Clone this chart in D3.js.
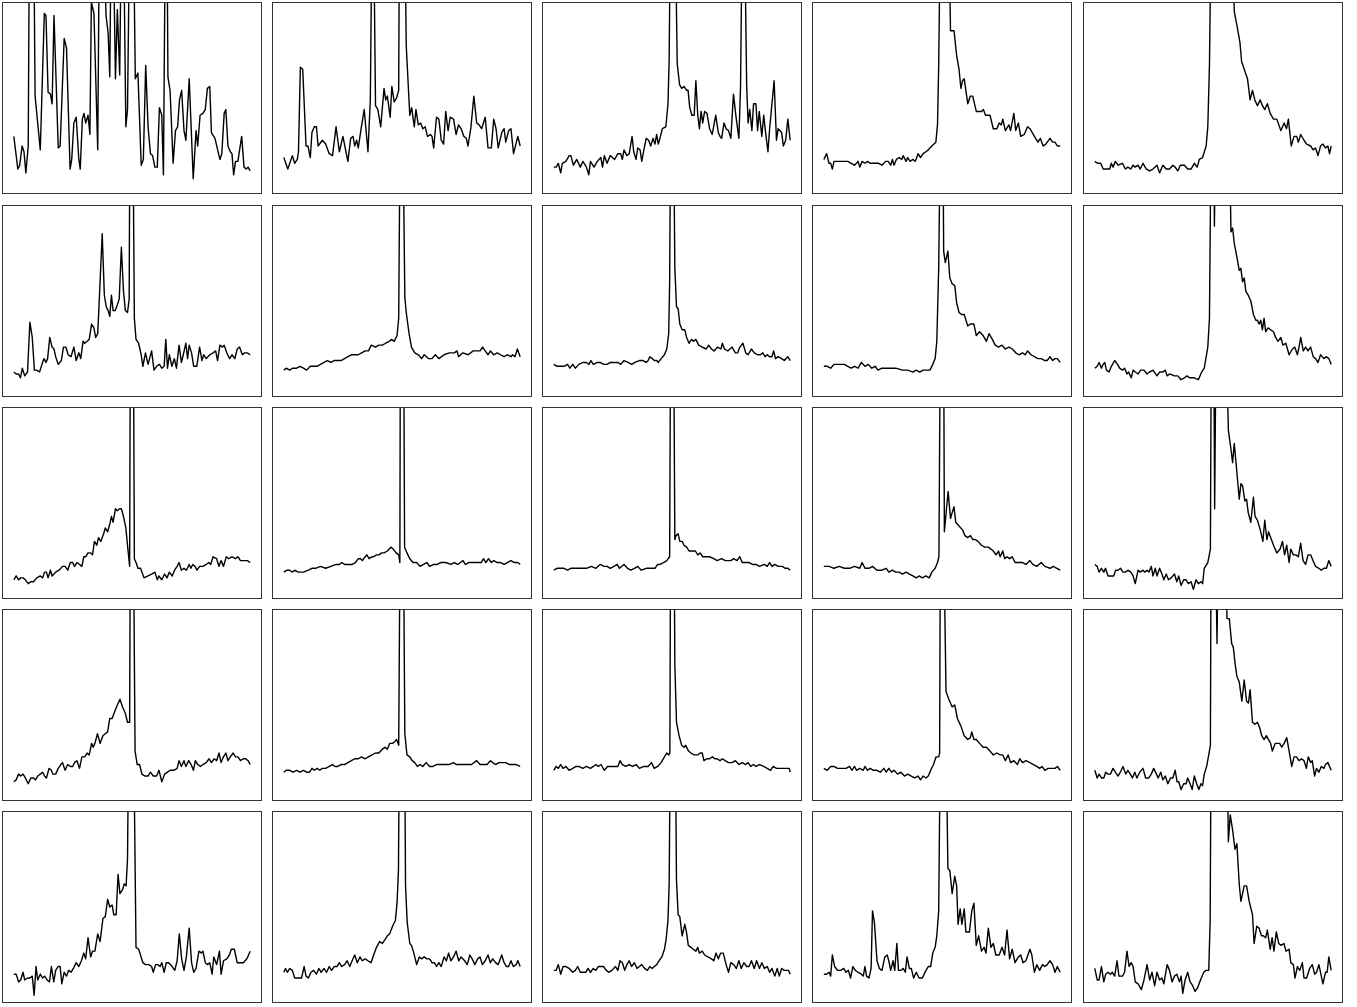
<!DOCTYPE html>
<html>
<head>
<meta charset="utf-8">
<script src="https://cdn.jsdelivr.net/npm/d3@7"></script>
<style>
  body { margin: 0; background: #fff; }
</style>
</head>
<body>
<div id="chart"></div>
<script>
// each panel: [shift, intensity] pairs, shift 0..100, intensity scaled so 100 = top of panel
// values above 100 run off the top of the panel (clipped like the original)

// row 1
var p11 = [[0,30],[1,20],[1.7,13],[2.5,15],[3.5,25],[4.3,22],[5.1,11],[6.1,25],[6.6,140],[8.4,140],[9,51],[11.2,23],[12.9,94],[13.6,93],[14.5,53],[15.5,52],[16.2,47],[17,93],[18.8,24],[19.6,25],[21.3,81],[22.3,76],[23.8,13],[24.5,18],[25.4,37],[26.4,40],[27.5,18],[28.1,13],[29,39],[29.7,42],[30.4,37],[31.4,41],[32.2,31],[32.8,100],[33.9,94],[35.5,23],[36.2,140],[38,140],[39,93],[39.9,84],[40.6,61],[41.2,140],[42,140],[43,60],[43.8,96],[44.8,62],[45.5,140],[46.4,140],[47.4,35],[48.1,44],[49,140],[50.6,140],[51.4,60],[52.5,63],[53.9,15],[54.8,18],[55.8,67],[56.8,35],[57.8,21],[58.7,20],[59.7,14],[60.7,14],[61.6,45],[62.6,41],[63.3,10],[64.1,140],[64.8,140],[65.2,61],[66.1,54],[67.4,16],[68.4,33],[69.3,35],[70.1,49],[71,54],[72,33],[72.8,28],[74.2,60],[75.9,8],[77.1,33],[77.8,25],[78.8,41],[80,42],[81,44],[81.9,55],[82.9,56],[83.6,32],[85.1,29],[87.2,18],[88,21],[89,42],[89.7,44],[90.6,25],[91.6,22],[92.3,21],[93,10],[93.8,17],[94.8,17],[96.4,30],[97.4,14],[98.3,13],[99.1,14],[100,12]];
var p12 = [[0,19],[1.7,13],[3.6,20],[4.6,16],[5.7,18],[6.2,22],[7,66],[8,65],[9.4,25],[10.2,25],[11.2,19],[11.9,32],[12.9,35],[13.8,35],[14.5,25],[16.3,28],[17.7,26],[19.2,21],[20.6,20],[22.1,35],[23.5,22],[25,30],[27.1,17],[28.3,29],[29.3,30],[30,25],[30.8,28],[31.5,24],[32.7,34],[34,44],[35.6,22],[36.6,49],[37.3,140],[38,140],[38.8,46],[39.8,44],[41,35],[42.4,55],[43.1,49],[43.8,51],[45,40],[45.7,56],[46.7,48],[47.7,50],[48.6,54],[48.9,140],[51.2,140],[51.8,77],[53.3,41],[54.1,45],[55.2,35],[55.9,44],[56.9,36],[57.9,37],[58.8,34],[59.8,35],[60.8,30],[62,31],[62.7,30],[63.4,24],[64.6,40],[65.6,39],[66.6,28],[67.6,26],[68.5,43],[69.5,33],[70.4,40],[71.8,39],[72.9,31],[73.9,36],[75,34],[76.2,30],[77.2,29],[77.9,25],[79.1,34],[80.4,51],[81.6,37],[82.6,36],[83.7,34],[85.2,40],[86.4,24],[87.8,24],[88.8,39],[89.8,34],[90.7,24],[92.2,32],[93.2,34],[93.9,27],[95.1,33],[96.1,34],[97.2,21],[99,30],[100,25]];
var p13 = [[0,14],[1,14],[1.9,16],[2.9,11],[3.6,16],[5.1,17],[6.5,20],[7.2,20],[8.3,15],[9.7,18],[11.2,14],[12.3,17],[13.8,14],[14.8,10],[15.5,17],[17,14],[18.4,17],[19.9,19],[20.6,14],[21.4,20],[22.5,16],[23.9,20],[25.7,18],[27.1,21],[28.3,21],[29,18],[29.7,23],[30.9,20],[31.9,21],[33.1,30],[33.8,22],[34.8,18],[35.5,24],[36.5,23],[37.2,17],[38.1,23],[39.1,29],[40.1,28],[41,25],[42,29],[42.8,26],[43.5,31],[44.2,26],[44.9,29],[45.9,34],[47.4,35],[48.3,47],[48.8,70],[49.3,140],[51.4,140],[52.2,68],[53.2,57],[54.1,55],[55.1,56],[56.2,54],[56.8,54],[57.5,45],[58.4,41],[59.4,41],[60.1,59],[60.9,41],[61.6,34],[62.3,43],[63,37],[63.8,43],[64.8,42],[65.9,34],[67,31],[68.5,41],[69.6,32],[70.3,30],[71,29],[72,37],[72.9,34],[73.9,33],[74.9,29],[76,52],[77.1,40],[78.3,29],[79,56],[79.7,140],[80.7,140],[81.6,56],[82.2,37],[82.9,44],[83.8,33],[84.5,47],[85.5,47],[86.2,33],[86.9,43],[88,30],[88.8,41],[89.6,32],[90.6,22],[91.3,34],[93.2,59],[94.2,28],[94.9,34],[96.4,32],[97.1,25],[98.1,28],[99,39],[100,28]];
var p14 = [[0,18],[1.2,21],[2.2,16],[2.9,16],[3.6,13],[4.3,17],[5.8,17],[7.2,17],[8.7,17],[10.1,17],[11.6,16],[13,15],[14.5,17],[15.2,14],[16.2,17],[17.4,16],[18.5,17],[19.6,16],[21,16],[23.2,16],[24.6,15],[26.1,17],[27.2,17],[28.3,15],[29,18],[29.7,15],[30.7,18],[31.9,19],[33,18],[33.6,20],[34.8,17],[35.5,19],[36.5,17],[37.7,18],[38.7,17],[39.9,21],[40.9,19],[42,21],[43.2,22],[44.2,23],[45.7,25],[47.4,27],[48.1,36],[48.6,67],[49.3,140],[52.9,140],[53.6,85],[55.1,85],[56.2,72],[57.2,65],[58,55],[58.7,59],[59.4,60],[60.9,47],[62,51],[63,51],[64.5,43],[66.7,43],[67.5,44],[68.4,41],[70.3,41],[71.7,34],[73.2,34],[74.2,37],[75.1,36],[75.7,39],[76.8,33],[78.3,36],[79,33],[80.4,42],[81.2,33],[82.3,37],[83.3,30],[84.8,31],[86.2,35],[87.2,34],[89.1,30],[90.6,27],[91.6,29],[92.8,25],[93.9,26],[95.7,29],[96.8,27],[97.8,27],[98.8,25],[100,25]];
var p15 = [[0,17],[1.1,16],[2.5,16],[3.5,13],[4.9,13],[6.3,13],[7,16],[7.7,14],[8.7,17],[9.8,15],[11.7,16],[12.9,13],[14,14],[15.2,13],[16.2,15],[17.1,14],[18.3,15],[19.2,13],[20.4,16],[21.8,13],[23.2,12],[24.6,13],[26.3,15],[27.4,11],[28.8,15],[30.2,13],[31.6,13],[33,15],[34,14],[35.1,12],[36.2,15],[37.9,15],[39.3,13],[40.7,13],[42.1,16],[43.3,14],[44.2,18],[45.6,19],[47.1,25],[47.8,35],[48.5,67],[49.2,140],[58,140],[59,95],[60.1,88],[61.4,79],[62.1,69],[63.2,65],[64.6,60],[65.7,49],[66.7,54],[67.7,49],[68.8,46],[70,49],[70.9,46],[71.9,44],[73,47],[74.2,42],[75.6,39],[77,39],[78.7,33],[80.1,37],[81.1,34],[81.9,39],[83.1,25],[84.3,30],[85.4,30],[86.1,27],[87.1,31],[88.5,28],[89.6,26],[91.3,25],[92.4,23],[93.4,24],[94.4,20],[95.5,25],[96.5,26],[97.6,24],[98.6,25],[99.3,21],[100,25]];

// row 2
var p21 = [[0,13],[1,12],[2,12],[2.8,10],[3.6,15],[4.6,11],[5.8,13],[6.8,39],[7.8,31],[8.7,14],[9.7,14],[10.9,13],[11.9,17],[12.8,20],[13.6,18],[14.3,20],[15.2,31],[16.2,26],[17,25],[17.7,21],[18.8,17],[20.1,19],[21,26],[22,26],[23,22],[24.2,21],[25.4,26],[26.4,19],[27.5,23],[28.3,20],[29.3,29],[30,28],[31,29],[31.9,30],[32.9,38],[33.9,36],[34.6,31],[35.5,33],[36.5,60],[37.4,85],[38.3,53],[39.1,47],[39.9,45],[40.6,42],[41.3,53],[42,45],[42.9,45],[43.8,48],[44.6,51],[45.5,78],[46.4,55],[47.2,45],[48.1,44],[48.8,51],[49.1,140],[50.4,140],[51,41],[51.7,30],[52.8,28],[53.9,22],[54.6,16],[55.7,23],[56.8,17],[58.3,24],[59.3,14],[60.4,16],[61.6,17],[62.6,15],[63.6,16],[64.3,30],[65,15],[65.8,22],[66.9,16],[67.9,20],[68.8,15],[69.9,27],[70.9,18],[71.7,22],[72.8,28],[73.5,20],[74.2,27],[75.2,23],[76.1,16],[77.4,16],[78.6,26],[79.6,19],[80.3,22],[81.4,20],[82.9,22],[84.3,23],[85.4,24],[86.2,19],[87.2,27],[88.3,26],[89,27],[90.1,23],[91.3,20],[92.3,22],[93.5,20],[94.5,25],[95.5,26],[96.7,22],[97.7,23],[98.8,23],[100,22]];
var p22 = [[0,14],[1,15],[2.5,14],[3.6,15],[5.4,15],[6.8,16],[8.3,15],[9.7,14],[11.2,16],[12.6,16],[14.1,16],[15.5,17],[17,18],[18.4,19],[19.9,18],[21.3,19],[22.8,19],[24.2,19],[25.7,20],[27.1,21],[28.6,22],[30,22],[31.5,22],[32.9,23],[34.4,24],[35.8,24],[37,27],[38.8,26],[40.2,27],[41.7,27],[43.1,28],[44.6,29],[45.6,30],[46.7,29],[47.9,32],[48.6,41],[49.2,140],[50.4,140],[51.2,52],[51.8,44],[53,33],[54,26],[55.4,23],[56.9,22],[58.3,20],[59.4,22],[61.2,20],[62.7,20],[64.1,22],[65.6,20],[67.8,22],[70,23],[72.1,23],[73.3,24],[73.9,21],[75.8,23],[78,22],[80.1,24],[81.6,24],[83,24],[84.1,26],[85.2,24],[86.4,22],[87.4,24],[88.8,22],[90.3,23],[91.7,22],[93.2,21],[94.6,22],[96.1,21],[96.8,22],[97.8,21],[98.8,25],[100,21]];
var p23 = [[0,17],[1.4,16],[2.9,16],[4.3,16],[5.8,17],[6.8,15],[8,17],[9.1,15],[10.6,17],[12.3,18],[13.8,18],[14.9,17],[15.7,19],[16.7,17],[18.4,18],[19.6,18],[21,17],[22.5,17],[23.9,18],[25.4,18],[27.1,18],[28.3,17],[29.7,19],[31.4,18],[32.9,17],[34.3,18],[36.2,19],[37.7,19],[39.1,18],[39.9,19],[40.6,21],[41.6,20],[42.5,19],[43.5,19],[44.2,18],[45.4,20],[46.8,22],[47.8,25],[48.6,33],[49,59],[49.4,140],[50.7,140],[51.2,67],[51.9,47],[52.6,46],[53.3,38],[54.3,35],[55.4,35],[56.2,31],[57.2,28],[58.3,30],[59.1,29],[60.1,30],[61.3,27],[62.8,26],[64.5,25],[65.5,27],[66.7,25],[67.8,24],[69.3,26],[70.7,25],[71.3,28],[72.2,25],[73.6,24],[75.4,26],[76.8,23],[77.8,23],[78.7,26],[80,28],[81.2,23],[82.2,22],[83.6,25],[84.8,23],[86.2,22],[87.4,22],[88.4,23],[89.4,21],[90.3,22],[91.3,21],[92.3,21],[93,24],[93.8,20],[94.9,21],[96.4,20],[97.5,19],[99,21],[100,19]];
var p24 = [[0,16],[1.4,16],[2.9,15],[4.3,17],[6.5,17],[8.7,17],[10.1,16],[11.6,15],[13,16],[14.5,15],[15.9,18],[17.4,16],[18.8,17],[20.3,15],[21.7,16],[22.9,14],[24.6,15],[27.5,15],[30.4,15],[33.3,14],[35.5,14],[37.7,13],[39.1,14],[40.6,13],[42,14],[43.5,14],[44.9,14],[46.1,17],[47.1,20],[47.8,29],[48.6,67],[49.3,140],[50.4,140],[50.7,76],[51.4,70],[52.5,76],[53.3,62],[54.3,59],[55.4,58],[56.2,49],[57.2,44],[58.3,43],[59.4,43],[60.9,37],[62,38],[63.5,38],[64.5,32],[65.9,34],[67.4,32],[68.8,29],[69.9,33],[71.3,30],[72.5,27],[73.9,26],[75.4,27],[76.8,25],[78.3,26],[79.7,25],[81.2,23],[82.6,22],[84.1,23],[85.2,22],[86.2,24],[87.7,22],[89.1,21],[90.6,20],[92,20],[93.5,19],[94.5,19],[95.7,21],[96.8,19],[97.8,20],[98.8,20],[100,18]];
var p25 = [[0,15],[1,16],[1.8,18],[2.8,15],[3.5,17],[4.2,18],[4.9,14],[6,13],[7,16],[8.4,19],[9.6,17],[10.5,15],[11.7,14],[12.6,15],[13.6,12],[14.3,13],[15.4,10],[16.2,14],[17.1,13],[18.3,12],[19.4,14],[20.8,14],[22.1,12],[23.2,13],[24.6,14],[26.3,11],[27.4,13],[28.8,13],[29.8,14],[30.6,11],[31.6,12],[33.7,11],[35.1,11],[36.5,9],[37.9,10],[39,11],[40,10],[42.1,10],[43.8,9],[45.2,13],[46.3,15],[47.8,26],[48.5,41],[49.2,140],[50.3,140],[50.6,89],[51.1,140],[56.9,140],[57.6,86],[58.3,88],[59,80],[60.1,73],[61.1,66],[61.8,67],[62.5,60],[63.2,62],[63.9,55],[64.9,53],[66,50],[67.1,43],[68.1,40],[68.8,40],[69.5,38],[70.2,40],[70.9,35],[71.6,41],[72.3,34],[73.3,36],[74.4,35],[75.6,34],[76.5,31],[77.5,29],[78.7,31],[79.6,27],[80.8,28],[82.2,22],[83.6,25],[84.6,26],[85.7,22],[86.4,26],[87.1,31],[88.2,24],[89.2,26],[90.2,24],[91.3,26],[92.4,21],[93.4,20],[94.4,18],[95.5,22],[96.9,20],[98,21],[99,20],[100,17]];

// row 3
var p31 = [[0,10],[1,12],[2,10],[2.9,11],[3.9,11],[4.9,10],[6.1,8],[7.2,9],[8.3,9],[9.7,11],[11.2,12],[12.2,11],[13,14],[13.8,14],[14.5,11],[15.5,15],[16.2,12],[17.7,14],[19.1,15],[20.6,17],[21.7,17],[22.8,15],[23.9,19],[24.9,19],[25.7,17],[26.7,19],[27.8,18],[28.8,17],[29.6,22],[30.4,22],[31.4,24],[32.5,24],[33.3,23],[34.1,30],[35.1,28],[35.8,32],[36.8,30],[38,34],[38.7,37],[39.7,35],[40.6,39],[41.3,43],[42,40],[43,47],[43.8,46],[44.8,47],[45.5,47],[46.4,43],[47.4,37],[48.1,28],[49,17],[49.3,140],[50.6,140],[51,21],[51.7,19],[52.5,16],[53.6,16],[55.1,11],[56.8,12],[58.3,13],[59.7,14],[60.7,10],[61.4,12],[62.6,10],[63.8,13],[64.8,11],[65.8,14],[67,12],[68,15],[69.1,17],[69.9,19],[70.9,15],[72,16],[73,15],[74.2,18],[74.9,16],[75.7,18],[76.7,17],[77.5,15],[78.6,17],[80,17],[81.4,18],[82.5,19],[83.3,18],[84.3,22],[85.8,21],[86.8,17],[87.7,20],[88.7,17],[89.9,22],[90.9,21],[92.3,22],[93.8,21],[94.8,22],[95.9,20],[97.4,20],[98.8,20],[100,19]];
var p32 = [[0,14],[1.3,15],[2.5,15],[3.6,14],[4.6,15],[6.1,14],[8.3,14],[10.4,15],[11.9,16],[13.4,16],[15.5,17],[17.7,16],[19.9,17],[22.1,18],[23.5,18],[24.5,19],[25.7,18],[27.1,18],[28.9,18],[30.3,19],[31.5,21],[32.5,21],[33.2,20],[34.4,22],[35.1,23],[36.1,21],[37.3,22],[38,22],[39.2,23],[40.2,23],[41.4,24],[42.4,24],[43.8,25],[45.3,27],[46.3,26],[47.5,24],[48.6,23],[49.1,19],[49.3,140],[50.7,140],[51.1,27],[52.1,24],[53.3,21],[54.7,19],[56.2,19],[57.6,17],[59.1,18],[60.5,19],[61.7,17],[63.4,18],[64.9,18],[66.3,19],[68.5,19],[70.7,18],[72.1,19],[73.6,18],[75.8,20],[76.8,18],[78.2,19],[80.1,19],[81.6,19],[83.5,19],[84.5,21],[85.5,19],[86.6,21],[87.8,19],[88.8,20],[90.3,19],[91.7,19],[93.2,18],[94.6,19],[96.1,20],[97.5,19],[99,19],[100,18]];
var p33 = [[0,15],[1.4,16],[2.9,16],[4.3,16],[5.8,15],[7.2,16],[8.7,16],[10.9,16],[13.8,16],[15.9,17],[17.8,16],[19.6,18],[21.3,17],[22.5,17],[23.9,16],[25.4,17],[26.8,18],[27.8,16],[29.7,18],[31.2,16],[32.6,15],[34.1,16],[35.5,17],[37,15],[39.1,16],[41.3,16],[42.8,16],[43.9,18],[44.9,18],[46.4,19],[47.8,20],[49,22],[49.4,140],[50.7,140],[51.2,31],[51.7,33],[52.6,34],[53.3,30],[54.3,30],[55.1,28],[56.2,27],[57.2,25],[58.4,25],[59.9,25],[60.9,23],[61.9,24],[63,22],[64.5,22],[65.9,22],[67.7,21],[69.1,20],[71,21],[72.5,20],[73.9,20],[74.9,20],[76.1,21],[77.5,20],[78.7,22],[79.7,19],[81.2,19],[82.6,19],[84.1,18],[85.5,18],[87,17],[89.1,18],[90.3,17],[91.3,19],[92.3,17],[93.5,18],[94.9,17],[96.7,17],[97.8,16],[99,16],[100,15]];
var p34 = [[0,17],[2.2,17],[4.3,16],[6.5,17],[8.7,16],[10.9,16],[13,17],[15.2,16],[16.2,19],[17.4,16],[19.1,16],[20.6,17],[22.5,15],[24.6,15],[26.4,16],[27.5,14],[29,15],[30.4,14],[31.9,14],[33.3,13],[34.8,14],[36.2,13],[37.7,12],[39.1,11],[40.3,12],[41.7,11],[43.2,12],[44.6,11],[45.7,14],[47.1,16],[48.1,19],[48.7,22],[49.3,140],[50.7,140],[51,35],[51.9,47],[52.6,56],[53.6,42],[54.3,45],[55.1,48],[55.8,40],[57.2,38],[58.7,36],[59.7,33],[60.9,32],[62,33],[63,31],[64.1,31],[65.2,30],[66.7,28],[68.1,27],[69.6,27],[70.7,26],[71.7,25],[72.9,23],[73.9,25],[74.6,22],[75.7,25],[76.5,21],[77.5,22],[78.6,21],[79.7,22],[80.9,19],[82.6,19],[84.1,19],[85.5,18],[87.2,20],[88.4,18],[90.1,17],[92,19],[93.5,17],[95.7,16],[97.1,17],[98.6,16],[100,15]];
var p35 = [[0,18],[1,17],[1.8,14],[2.8,16],[3.8,14],[4.5,16],[5.6,12],[7,12],[8,12],[8.8,15],[9.8,15],[10.9,16],[11.9,14],[12.9,14],[14,15],[15.2,14],[16.2,12],[17.1,8],[18.3,15],[19.2,14],[20.4,15],[21.1,14],[22.1,15],[22.9,14],[23.9,17],[24.6,12],[25.6,16],[26.3,12],[27.4,16],[28.4,13],[29.2,10],[30.2,13],[31.2,10],[32.3,11],[33.7,13],[34.7,9],[35.5,12],[36.5,7],[37.6,10],[38.6,10],[39.6,8],[40.7,9],[41.7,5],[42.8,10],[43.8,8],[44.9,9],[45.6,8],[46.3,16],[47.8,19],[48.9,26],[49.3,140],[50.3,140],[50.7,47],[51.3,140],[55.5,140],[56.5,88],[57.6,78],[58.3,71],[59,81],[60.1,66],[61.1,52],[61.8,60],[62.5,59],[63.5,51],[64.2,52],[64.9,45],[66,40],[67.1,53],[67.8,43],[68.8,41],[70,36],[71.1,30],[71.9,41],[72.8,31],[73.5,35],[74.4,32],[75.6,28],[77,24],[78.4,26],[79.4,30],[80.3,23],[81.2,28],[82.2,19],[82.9,26],[84,23],[85,23],[86.1,22],[87.1,29],[88.1,20],[89.2,18],[90.2,23],[91.3,23],[92.3,20],[93.4,17],[94.8,16],[95.8,15],[96.9,16],[98,16],[99,20],[100,17]];

// row 4
var p41 = [[0,10],[1,11],[2,14],[2.9,13],[3.9,14],[4.9,12],[6.1,9],[7.2,12],[8.3,12],[9.2,11],[10.1,13],[11.2,14],[12.2,15],[13,13],[13.8,12],[14.9,17],[15.9,16],[16.5,14],[17.7,14],[18.8,17],[19.9,19],[20.6,20],[21.7,16],[22.8,19],[23.9,18],[24.9,18],[25.7,20],[26.7,21],[27.8,17],[28.8,23],[30,23],[31,25],[31.9,24],[32.9,30],[33.6,28],[34.3,30],[35.4,35],[36.5,30],[37.7,34],[38.7,35],[39.7,36],[40.6,43],[41.6,43],[42.8,47],[43.8,50],[44.9,53],[46,49],[47.1,46],[48.1,41],[49,41],[49.3,140],[50.6,140],[51.3,26],[52.2,19],[53.2,19],[54.2,14],[55.4,13],[56.8,13],[57.8,15],[59,13],[60.4,13],[61.4,16],[62.6,10],[63.8,14],[65,15],[66.2,16],[67.7,16],[69.1,17],[69.9,21],[70.9,18],[72,21],[72.8,18],[74,21],[75,19],[76,16],[76.8,21],[77.8,19],[79,18],[80,19],[81.4,20],[82.6,22],[83.6,20],[84.8,22],[85.8,21],[86.8,25],[87.7,20],[88.7,23],[89.7,25],[90.6,21],[91.6,23],[92.8,25],[93.8,23],[94.8,23],[95.9,21],[97.1,22],[98.1,22],[99.1,21],[100,19]];
var p42 = [[0,15],[1,16],[2.5,16],[3.9,15],[5.4,16],[6.8,15],[8.3,16],[9.7,15],[10.9,15],[11.9,17],[12.9,16],[14.1,17],[15.2,16],[16.3,17],[17.7,17],[19.2,18],[20.6,19],[21.6,18],[22.8,18],[24.2,19],[25.7,19],[27.1,20],[28.6,21],[30,22],[31.5,22],[32.9,23],[34.4,22],[35.8,23],[37.3,24],[38.8,25],[40.2,25],[41.7,27],[42.8,28],[43.8,27],[44.8,30],[46,30],[47,31],[47.7,32],[48.6,29],[49.2,140],[50.6,140],[51.2,35],[52.1,24],[53.3,23],[54.3,21],[55.4,20],[56.5,18],[57.6,19],[58.8,18],[60.2,20],[61.7,18],[63.1,18],[64.6,19],[66,19],[67.8,19],[69.9,19],[71.8,20],[72.9,19],[75,19],[77.2,19],[79.4,19],[81.6,21],[83,19],[84.9,19],[86,19],[87.4,21],[88.4,20],[89.6,19],[91,20],[92.5,20],[93.9,20],[95.4,19],[96.8,19],[98.3,19],[100,18]];
var p43 = [[0,16],[1,18],[1.9,17],[2.9,19],[3.9,17],[5.1,18],[6.5,16],[8,17],[9.4,18],[10.6,18],[12.3,17],[13.8,18],[15.5,17],[16.7,18],[17.8,19],[18.8,18],[20,19],[21.3,16],[22.8,18],[24.2,18],[25.7,18],[27.1,18],[28,21],[29,19],[30.4,18],[31.9,19],[33.3,18],[34.8,19],[36.2,17],[38.1,18],[39.9,18],[41.3,20],[42.5,17],[43.9,18],[45.4,20],[46.8,23],[47.8,25],[48.6,24],[49.1,25],[49.4,140],[50.9,140],[51.2,71],[51.9,41],[53,34],[54.1,29],[55.1,28],[55.8,29],[57,26],[58,25],[59.4,24],[60.9,24],[61.9,25],[62.8,25],[63.5,21],[64.8,22],[65.9,22],[67.1,23],[68.1,22],[69.1,22],[70.3,21],[71.3,22],[72.5,21],[73.9,20],[75.4,20],[76.8,21],[78.3,19],[79.7,20],[81.2,19],[82.2,20],[83.3,18],[84.5,19],[85.5,18],[87,19],[88.8,18],[90.3,17],[91.7,16],[92.8,18],[94.2,17],[95.7,17],[97.1,17],[98.6,17],[99.6,17],[100,15]];
var p44 = [[0,17],[1.4,16],[2.9,18],[4.3,18],[5.8,17],[8,17],[9.4,17],[10.9,18],[11.9,16],[13,18],[13.8,16],[15.2,17],[16.7,16],[17.4,18],[18.5,16],[19.6,17],[21,16],[22.5,16],[23.9,15],[25.4,17],[26.4,15],[27.5,17],[28.7,15],[29.7,16],[31.2,14],[32.6,15],[34.1,13],[35.5,14],[37,13],[38.4,12],[39.9,13],[40.9,11],[42,13],[43.2,12],[44.2,13],[45.2,16],[46.4,19],[47.5,23],[48.6,23],[49,25],[49.3,140],[50.7,140],[51.7,57],[52.9,53],[54.3,49],[55.4,50],[56.5,43],[58,39],[59.4,34],[60.9,32],[62,33],[62.6,36],[63.5,32],[64.5,32],[65.9,30],[67.4,28],[68.8,28],[70.3,26],[71.7,24],[73.2,25],[74.6,24],[75.7,24],[76.8,21],[78,24],[79,20],[80.4,21],[81.9,19],[82.9,22],[84.1,20],[85.5,21],[87.2,20],[88.7,19],[90.1,18],[91.3,17],[92.3,18],[93.5,16],[94.9,17],[96.4,17],[97.8,17],[98.8,18],[100,16]];
var p45 = [[0,16],[1,12],[1.8,14],[2.8,12],[3.8,12],[4.6,15],[5.6,14],[6.6,14],[7.7,17],[8.7,15],[9.8,13],[10.8,15],[11.9,18],[13.1,14],[14,16],[15,14],[15.9,12],[16.9,15],[17.8,12],[19,15],[20.4,17],[21.5,12],[22.8,12],[23.9,14],[24.9,17],[26.1,14],[26.8,12],[27.9,15],[28.8,11],[29.8,13],[30.9,9],[32,12],[33,12],[34,16],[34.8,10],[35.5,10],[36.5,6],[37.6,9],[38.6,9],[39.3,12],[40.3,9],[41.2,6],[42.1,13],[43.1,9],[44,6],[44.9,9],[45.6,8],[46.3,14],[47.3,18],[48.2,24],[48.9,29],[49.2,140],[51,140],[51.7,82],[52.2,140],[55.5,140],[55.9,95],[56.9,95],[57.9,82],[58.6,80],[59.4,71],[60.1,65],[61.1,62],[62.2,52],[63.2,63],[64.2,52],[65,51],[65.7,58],[66.7,41],[67.7,40],[68.8,41],[69.8,38],[70.6,34],[71.6,32],[72.6,34],[73.5,32],[74.4,30],[75.1,26],[76.3,30],[77.2,30],[78.2,30],[79.1,28],[80.1,30],[81.2,33],[82.2,26],[83.3,18],[84.3,23],[85.3,23],[86.4,21],[87.4,22],[88.5,21],[89.5,17],[90.3,23],[91.3,20],[92,21],[93,13],[93.8,17],[94.8,15],[95.8,18],[96.9,17],[97.6,19],[98.6,20],[100,16]];

// row 5
var p51 = [[0,15],[1,15],[2,11],[2.9,12],[3.9,16],[4.6,12],[5.8,13],[6.8,13],[7.8,14],[8.6,4],[9.4,19],[10.1,12],[11.2,15],[12.2,13],[13,14],[14.1,12],[15.1,11],[15.9,19],[16.9,11],[17.7,17],[18.7,19],[19.6,19],[20.3,10],[21.3,16],[22.3,14],[23.2,17],[24.2,16],[25.2,18],[26.4,21],[27.5,19],[28.6,22],[29.6,26],[30.4,23],[31.4,34],[32.5,24],[33.3,27],[34.3,27],[35.5,36],[36.5,32],[37.7,44],[38.7,45],[39.7,54],[40.6,50],[41.6,51],[42.3,46],[43.3,46],[44.1,67],[44.9,57],[46,59],[46.7,62],[47.5,61],[48.1,75],[48.6,140],[50.7,140],[51.7,29],[52.8,28],[53.6,25],[54.6,21],[55.7,20],[57.1,20],[58.3,19],[59,16],[60,20],[60.9,20],[61.9,19],[62.6,21],[63.6,16],[64.5,21],[65.5,21],[67,19],[68.1,17],[69.1,22],[70,36],[71,23],[72,17],[73,24],[74.2,39],[75.2,21],[76.1,16],[77.1,18],[78.3,27],[79.3,26],[80,27],[81,21],[81.9,20],[82.9,21],[83.9,15],[84.6,24],[85.8,20],[87,27],[87.7,15],[88.7,22],[90.1,23],[91.2,25],[92,28],[93.3,28],[94.5,21],[95.9,21],[97.1,21],[98.6,23],[100,27]];
var p52 = [[0,16],[0.7,18],[1.5,16],[2.5,18],[3.6,17],[4.6,13],[6.1,13],[7.5,13],[8.6,19],[9.4,14],[10.4,13],[11.5,16],[12.6,17],[13.8,15],[14.8,18],[15.8,16],[17,18],[18.1,16],[19.2,19],[20.2,17],[21.3,19],[22.5,19],[23.5,21],[24.5,19],[25.7,20],[26.8,22],[27.9,19],[28.9,22],[30,25],[31.1,21],[32.2,24],[33.2,22],[34.4,23],[35.6,22],[36.9,21],[38,25],[39.2,29],[40.5,32],[41.7,31],[42.8,33],[43.8,35],[44.8,36],[46,40],[47.2,43],[47.9,52],[48.5,69],[48.9,140],[51.1,140],[51.5,61],[52.2,42],[53.3,31],[54,30],[55,26],[56.2,20],[57.3,24],[58.3,23],[59.4,24],[60.5,23],[61.7,23],[62.7,21],[63.7,21],[64.6,19],[65.6,21],[66.6,19],[67.8,24],[68.8,22],[69.7,26],[70.7,22],[71.8,24],[72.9,27],[74,22],[75,24],[76.5,22],[77.6,20],[78.7,25],[79.7,23],[80.8,20],[82,23],[83,24],[84,20],[85.2,22],[86.4,25],[87.4,21],[88.4,23],[89.6,21],[90.7,20],[92.2,25],[93.2,21],[94.2,19],[95.1,19],[96.1,22],[97.1,19],[98.3,20],[99,22],[100,19]];
var p53 = [[0,17],[1,17],[1.9,20],[2.9,15],[3.9,19],[5.1,19],[6.5,18],[8,16],[9.1,17],[10.1,19],[11.2,16],[12.3,16],[13.5,16],[14.5,18],[15.5,16],[16.7,18],[17.8,17],[18.8,19],[19.9,19],[21,19],[22.2,17],[23.2,16],[24.6,17],[26.1,19],[27.1,17],[28,22],[29,21],[30,17],[30.9,20],[31.9,22],[32.9,19],[34.1,21],[35.2,18],[36.2,19],[37.2,20],[38.4,18],[39.6,17],[40.6,19],[41.6,18],[42.5,19],[43.5,20],[44.5,22],[45.7,24],[46.8,28],[47.5,33],[48.3,43],[48.8,62],[49.3,140],[51.4,140],[51.9,64],[52.6,46],[53.3,45],[54.3,35],[55.4,41],[56.1,37],[56.9,30],[58,29],[59,28],[60.1,27],[60.9,29],[61.6,26],[62.8,27],[63.8,25],[65.2,24],[66.7,23],[67.7,22],[68.6,26],[69.6,23],[70.6,26],[71.7,26],[72.9,20],[73.9,16],[74.9,21],[76.1,20],[77.2,18],[78.3,22],[79.3,18],[80.4,21],[81.6,19],[82.6,19],[83.6,22],[84.8,18],[85.8,22],[87,18],[88,21],[89.1,18],[90.3,19],[91.3,16],[92.3,18],[93.5,14],[94.5,18],[95.4,14],[96.4,18],[97.5,17],[98.6,17],[99.3,17],[100,15]];
var p54 = [[0,15],[1.2,15],[2.2,16],[2.9,14],[3.6,25],[4.6,19],[5.8,17],[7.2,17],[8.4,18],[9.4,16],[10.4,17],[11.3,13],[12.3,19],[13.3,17],[14.5,16],[15.9,15],[16.7,14],[17.4,19],[18.1,14],[19.1,13],[20,18],[20.6,48],[21.4,42],[22.5,22],[23.5,18],[24.6,17],[25.8,24],[26.8,25],[27.5,22],[28.3,17],[29.3,22],[30,17],[30.9,31],[31.6,17],[32.6,17],[33.6,18],[34.5,16],[35.2,24],[36.2,18],[37,18],[38,13],[39.1,16],[40.3,13],[41.7,13],[43.2,17],[44.2,19],[45.2,19],[46.1,26],[47.1,29],[47.8,35],[48.6,48],[49.3,140],[51.7,140],[52.5,70],[53.3,69],[54.3,57],[55.4,66],[56.2,61],[56.8,41],[57.7,49],[58.4,41],[59.4,49],[60.1,37],[61.6,37],[62.6,48],[63.5,52],[64.5,30],[65.5,35],[66.7,27],[67.8,29],[68.6,26],[69.6,39],[70.7,29],[71.7,31],[72.8,25],[74.2,25],[75.4,29],[76.5,25],[77.5,38],[78.6,23],[79.7,28],[80.9,21],[82.3,24],[83.3,25],[84.3,21],[85.5,22],[87.2,28],[88,25],[89.1,16],[90.1,20],[91.3,17],[92.5,20],[93.5,19],[94.5,20],[95.7,22],[96.8,20],[97.8,16],[98.8,19],[100,16]];
var p55 = [[0,18],[1,12],[1.8,12],[2.8,19],[3.8,11],[4.6,15],[5.6,16],[6.6,15],[7.4,16],[8.4,14],[9.4,22],[10.2,14],[11.7,14],[12.6,16],[13.6,27],[14.5,19],[15.4,21],[16.2,19],[17.1,11],[18.3,10],[19.7,7],[20.8,12],[22.1,20],[23.2,12],[24.2,16],[25.3,9],[26.3,16],[27.4,12],[28.4,13],[29.2,10],[30.6,20],[31.6,17],[32.7,11],[33.7,14],[34.7,15],[35.8,11],[36.5,14],[37.2,5],[38.2,12],[39.3,16],[40.3,11],[41.4,9],[42.4,6],[43.5,8],[44.7,12],[46.1,16],[47.1,17],[48.2,17],[48.8,43],[49.2,140],[55.9,140],[56.5,84],[57.3,98],[58.3,90],[59.3,80],[60.1,83],[61.1,62],[61.8,53],[63.2,61],[64.2,61],[65.3,53],[66.7,46],[67.4,31],[68.5,40],[69.5,39],[70.5,35],[71.3,35],[72.3,34],[73,38],[74.2,28],[75,34],[75.8,27],[76.8,37],[77.8,31],[78.8,30],[80,31],[80.9,27],[82.2,28],[82.9,21],[84,20],[84.7,13],[85.7,19],[86.7,17],[87.8,21],[88.5,13],[89.6,13],[90.9,18],[92,20],[93,15],[93.8,16],[94.8,20],[96,13],[96.5,10],[97.6,16],[98.3,16],[99,24],[100,17]];

var grid = [
  [p11, p12, p13, p14, p15],
  [p21, p22, p23, p24, p25],
  [p31, p32, p33, p34, p35],
  [p41, p42, p43, p44, p45],
  [p51, p52, p53, p54, p55]
];

var width = 1357,
    height = 1007,
    panelW = 260,
    panelH = 192;

// panel corners as laid out in the figure
var colLeft = [2, 272, 542, 812, 1083],
    rowTop = [2, 205, 407, 609, 811];

var svg = d3.select("#chart").append("svg")
            .attr("width", width)
            .attr("height", height);

// same scales for every panel, 5% padding on x like the original
var x = d3.scaleLinear()
          .domain([-5, 105])
          .range([0, panelW]);

var y = d3.scaleLinear()
          .domain([0, 100])
          .range([panelH, 0]);

var line = d3.line()
             .x(function(d) { return x(d[0]); })
             .y(function(d) { return y(d[1]); });

grid.forEach(function(row, r) {
  row.forEach(function(data, c) {
    var g = svg.append("g")
               .attr("transform", "translate(" + colLeft[c] + "," + rowTop[r] + ")");

    g.append("clipPath")
     .attr("id", "clip-" + r + "-" + c)
     .append("rect")
     .attr("width", panelW)
     .attr("height", panelH);

    g.append("path")
     .datum(data)
     .attr("clip-path", "url(#clip-" + r + "-" + c + ")")
     .attr("fill", "none")
     .attr("stroke", "#000")
     .attr("stroke-width", 1.4)
     .attr("stroke-linejoin", "round")
     .attr("d", line);

    // frame
    g.append("rect")
     .attr("x", 0.5)
     .attr("y", 0.5)
     .attr("width", panelW - 1)
     .attr("height", panelH - 1)
     .attr("fill", "none")
     .attr("stroke", "#333")
     .attr("stroke-width", 1);
  });
});
</script>
</body>
</html>
